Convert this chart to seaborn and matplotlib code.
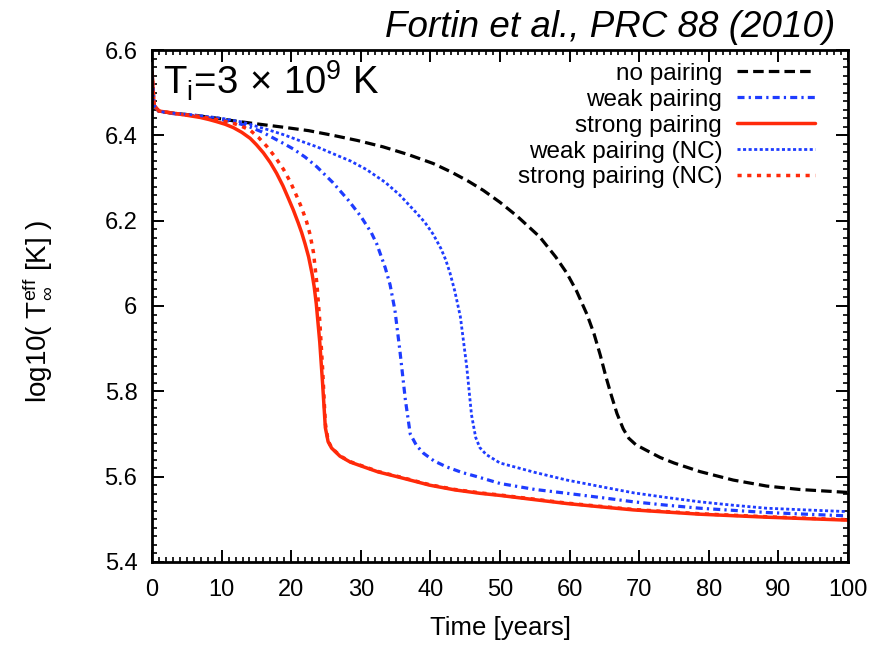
import matplotlib
matplotlib.use("Agg")
import matplotlib.pyplot as plt
import seaborn as sns
from matplotlib.ticker import MultipleLocator

# --- data (time in years, log10 Teff) ---
t_no = [0, 0.3, 1, 3, 6, 9, 11.7, 15, 18.9, 22.5, 26, 29.5, 33.2, 36.8, 40.4, 43,
        45.5, 47.6, 50, 52.5, 55.7, 58, 59.6, 61, 62.5, 63.5, 64.4, 65.2, 66,
        66.8, 67.7, 68.5, 69.5, 71, 73, 75, 78.7, 83.5, 88.3, 93, 100]
v_no = [6.55, 6.47, 6.456, 6.452, 6.447, 6.441, 6.434, 6.427, 6.419, 6.411, 6.40,
        6.388, 6.373, 6.355, 6.334, 6.314, 6.292, 6.271, 6.243, 6.21, 6.162,
        6.115, 6.077, 6.035, 5.98, 5.935, 5.885, 5.835, 5.79, 5.748, 5.712, 5.69,
        5.675, 5.662, 5.645, 5.632, 5.612, 5.592, 5.578, 5.570, 5.563]

t_weak = [0, 0.3, 1, 3, 6, 10, 12, 14, 15.8, 17.4, 19, 20.3, 22, 23.7, 26, 28.2,
          30, 31.5, 32.3, 33.5, 34.2, 34.9, 35.6, 36.4, 37.1, 38, 39, 40.5, 42.3,
          44.5, 46.7, 50, 55, 59.6, 65, 69.2, 74, 78.7, 83.5, 88.3, 94, 100]
v_weak = [6.55, 6.47, 6.456, 6.451, 6.446, 6.437, 6.43, 6.42, 6.408, 6.394, 6.38,
          6.368, 6.349, 6.326, 6.289, 6.248, 6.21, 6.172, 6.145, 6.09, 6.05, 5.99,
          5.897, 5.78, 5.70, 5.673, 5.655, 5.637, 5.623, 5.610, 5.60, 5.584, 5.57,
          5.561, 5.55, 5.541, 5.533, 5.526, 5.521, 5.516, 5.512, 5.508]

t_strong = [0, 0.3, 1, 3, 5, 6.9, 8.2, 9.3, 10.5, 11.7, 12.9, 14.1, 15, 16, 17,
            17.9, 18.8, 19.6, 20.3, 21, 21.5, 22, 22.5, 23, 23.3, 23.6, 24.1,
            24.5, 24.9, 25.3, 25.8, 27, 28.5, 30.4, 32.5, 35.2, 39.9, 43.5, 47.1,
            50, 55, 59.6, 64, 69.2, 78.7, 88.3, 100]
v_strong = [6.55, 6.47, 6.457, 6.452, 6.447, 6.442, 6.437, 6.432, 6.426, 6.418,
            6.407, 6.393, 6.378, 6.359, 6.336, 6.311, 6.282, 6.252, 6.225, 6.195,
            6.172, 6.145, 6.115, 6.075, 6.045, 6.005, 5.915, 5.82, 5.715, 5.682,
            5.667, 5.648, 5.634, 5.623, 5.611, 5.60, 5.58, 5.569, 5.561, 5.556,
            5.546, 5.537, 5.53, 5.522, 5.512, 5.505, 5.498]

t_weak_nc = [0, 0.3, 1, 3, 6, 10, 13, 16.5, 19, 21.3, 23.7, 26, 28.5, 30.8, 33.5,
             35.6, 38, 39.2, 40.4, 41.5, 42.2, 42.8, 43.5, 44.3, 45.2, 45.9, 46.5,
             47.1, 48, 50, 55, 59.6, 65, 69.2, 74, 78.7, 83.5, 88.3, 94, 100]
v_weak_nc = [6.55, 6.47, 6.456, 6.452, 6.448, 6.44, 6.431, 6.414, 6.401, 6.387,
             6.373, 6.357, 6.34, 6.32, 6.29, 6.26, 6.218, 6.196, 6.168, 6.135,
             6.108, 6.078, 6.035, 5.975, 5.86, 5.745, 5.692, 5.668, 5.652, 5.632,
             5.61, 5.592, 5.575, 5.562, 5.551, 5.541, 5.533, 5.526, 5.522, 5.518]

t_strong_nc = [0, 0.3, 1, 3, 5, 6.9, 9.3, 11.7, 12.9, 14.1, 15.3, 16.5, 17.7,
               18.9, 19.9, 20.8, 21.5, 22.2, 22.7, 23.2, 23.7, 24.1, 24.5, 24.9,
               25.3, 25.8, 27, 28.5, 30.4, 32.5, 35.2, 39.9, 43.5, 47.1, 50, 55,
               59.6, 64, 69.2, 78.7, 88.3, 100]
v_strong_nc = [6.55, 6.47, 6.457, 6.452, 6.448, 6.444, 6.437, 6.428, 6.421, 6.412,
               6.395, 6.374, 6.349, 6.32, 6.29, 6.257, 6.23, 6.198, 6.168, 6.125,
               6.05, 5.965, 5.855, 5.725, 5.684, 5.668, 5.649, 5.635, 5.624, 5.612,
               5.601, 5.581, 5.57, 5.562, 5.557, 5.547, 5.538, 5.531, 5.523, 5.513,
               5.506, 5.499]

RED = "#ff2a0a"
BLUE = "#1e3cff"

sns.set_theme(style="ticks")
plt.rcParams.update({
    "font.family": ["Liberation Sans", "DejaVu Sans"],
    "mathtext.fontset": "custom",
    "mathtext.rm": "Liberation Sans",
    "mathtext.it": "Liberation Sans:italic",
    "mathtext.bf": "Liberation Sans:bold",
    "text.color": "black",
    "axes.labelcolor": "black",
    "xtick.color": "black",
    "ytick.color": "black",
    "xtick.direction": "in",
    "ytick.direction": "in",
    "xtick.top": True,
    "ytick.right": True,
})

fig = plt.figure(figsize=(8.88, 6.47), dpi=100)
ax = fig.add_axes([0.1712, 0.1314, 0.7838, 0.7913])

series = [
    ("no pairing", t_no, v_no, "black", (0, (3.3, 1.6)), 2.3),
    ("weak pairing", t_weak, v_weak, BLUE, (0, (2.2, 1.3, 0.7, 1.3)), 2.3),
    ("strong pairing", t_strong, v_strong, RED, "-", 2.5),
    ("weak pairing (NC)", t_weak_nc, v_weak_nc, BLUE, (0, (1.1, 0.9)), 2.0),
    ("strong pairing (NC)", t_strong_nc, v_strong_nc, RED, (0, (1.2, 1.6)), 2.5),
]
for label, t, v, color, ls, lw in series:
    sns.lineplot(x=t, y=v, ax=ax, color=color, linestyle=ls, linewidth=lw,
                 label=label, sort=False, estimator=None)

ax.set_xlim(0, 100)
ax.set_ylim(5.4, 6.6)
ax.xaxis.set_major_locator(MultipleLocator(10))
ax.xaxis.set_minor_locator(MultipleLocator(1))
ax.yaxis.set_minor_locator(MultipleLocator(0.02))
ax.set_yticks([5.4, 5.6, 5.8, 6.0, 6.2, 6.4, 6.6])
ax.set_yticklabels(["5.4", "5.6", "5.8", "6", "6.2", "6.4", "6.6"])
ax.tick_params(which="major", length=8.5, width=1.4, labelsize=17)
ax.tick_params(axis="x", which="major", pad=12.5)
ax.tick_params(axis="y", which="major", pad=10.5)
ax.tick_params(which="minor", length=3.8, width=1.2)
for sp in ax.spines.values():
    sp.set_visible(True)
    sp.set_linewidth(2.0)
    sp.set_color("black")

ax.set_xlabel("Time [years]", fontsize=18.5)
ax.xaxis.set_label_coords(0.5, -0.105)
ax.set_ylabel(r"log10( $\mathregular{T^{eff}_{\infty}}$ [K] )", fontsize=20)
ax.yaxis.set_label_coords(-0.142, 0.49)

leg = ax.legend(loc="upper right", bbox_to_anchor=(0.9526, 0.975), frameon=False,
                markerfirst=False, fontsize=17.5, handlelength=3.2,
                handletextpad=0.62, labelspacing=0.16, borderaxespad=0,
                borderpad=0)

ax.text(0.016, 0.912, r"T$_{\mathrm{i}}$=3$\,\times\,$10$^{9}$ K",
        transform=ax.transAxes, ha="left", va="baseline", fontsize=27.5)

fig.text(0.941, 0.958, "Fortin et al., PRC 88 (2010)", ha="right", va="center",
         fontsize=26.5, style="italic")

fig.savefig("out.png", dpi=100)
